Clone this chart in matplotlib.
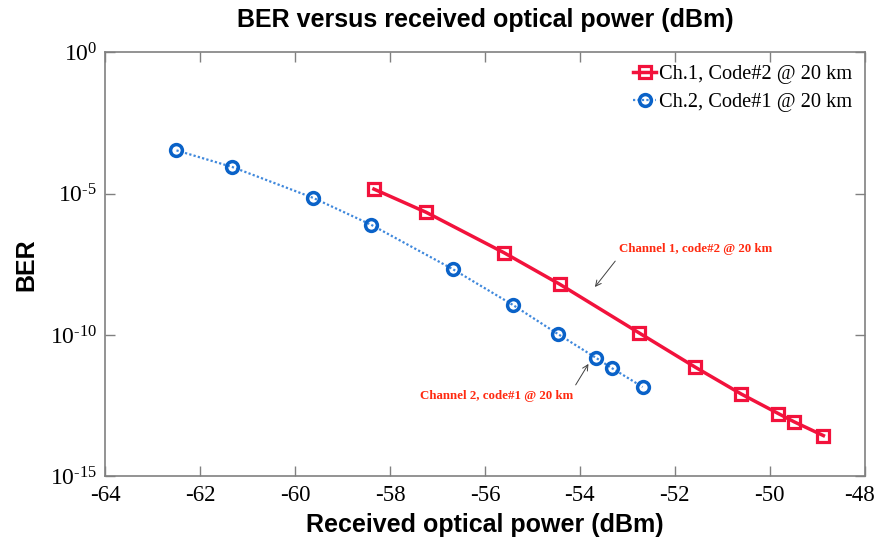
import numpy as np
import matplotlib
matplotlib.use('Agg')
import matplotlib.pyplot as plt
import matplotlib.transforms as mtrans

# dane (log10 BER)
p_ch1 = [-58.34, -57.24, -55.60, -54.42, -52.75, -51.57, -50.60, -49.82, -49.49, -48.87]
log_ber_ch1 = [-4.84, -5.66, -7.09, -8.21, -9.93, -11.14, -12.09, -12.78, -13.07, -13.56]
p_ch2 = [-62.50, -61.32, -59.62, -58.40, -56.67, -55.41, -54.47, -53.67, -53.32, -52.68]
log_ber_ch2 = [-3.47, -4.06, -5.15, -6.10, -7.68, -8.94, -9.96, -10.80, -11.18, -11.84]
label_ch1 = 'Ch.1, Code#2 @ 20 km'
label_ch2 = 'Ch.2, Code#1 @ 20 km'
note_ch1 = 'Channel 1, code#2 @ 20 km'
note_ch2 = 'Channel 2, code#1 @ 20 km'
xticks = [-64, -62, -60, -58, -56, -54, -52, -50, -48]
yexp = [0, -5, -10, -15]

ber_ch1 = 10.0 ** np.array(log_ber_ch1)
ber_ch2 = 10.0 ** np.array(log_ber_ch2)

serif = 'Liberation Serif'
sans = 'Liberation Sans'
plt.rcParams['mathtext.fontset'] = 'custom'
plt.rcParams['mathtext.rm'] = serif

fig = plt.figure(figsize=(8.78, 5.41), dpi=100)
ax = fig.add_axes([105.3 / 878, 1 - 476.3 / 541, (864.7 - 105.3) / 878, (476.3 - 52.3) / 541])

ax.plot(p_ch1, ber_ch1, '-s', color='#f2123c', lw=2.5, ms=8, mfc='none', mew=2.3, label=label_ch1)
ax.plot(p_ch2, ber_ch2, 'o', color='#0a62c8', ls=(0, (1, 1)), lw=1.6, ms=8.5, mfc='none', mew=2.5, label=label_ch2)
ax.get_lines()[1].set_color('#3f88dc')
ax.get_lines()[1].set_markeredgecolor('#0a62c8')

ax.set_yscale('log')
ax.set_xlim(-64, -48)
ax.set_ylim(1e-15, 1e0)
ax.set_xticks(xticks)
ax.set_yticks([10.0 ** e for e in yexp])
ax.minorticks_off()
ax.set_xticklabels([str(t) for t in xticks], fontfamily=serif, fontsize=16.5)
ax.set_yticklabels(['$\\mathregular{10^{\\text{%d}}}$' % e for e in yexp], fontfamily=serif, fontsize=17)
ax.tick_params(direction='in', top=True, right=True, length=7, color='#808080', width=1, pad=6)
for s in ax.spines.values():
    s.set_color('#808080')
    s.set_linewidth(1.2)
# ostatnia etykieta troche w lewo, zeby sie zmiescila
ostatnia = ax.get_xticklabels()[-1]
ostatnia.set_transform(ostatnia.get_transform() + mtrans.ScaledTranslation(-5 / 100, 0, fig.dpi_scale_trans))

ax.set_title('BER versus received optical power (dBm)', fontfamily=sans, fontweight='bold', fontsize=18, pad=18)
ax.set_xlabel('Received optical power (dBm)', fontfamily=sans, fontweight='bold', fontsize=18, labelpad=5)
ax.set_ylabel('BER', fontfamily=sans, fontweight='bold', fontsize=18, labelpad=8)

leg = ax.legend(loc='upper right', frameon=False, prop={'family': serif, 'size': 14.7},
                handlelength=1.15, handletextpad=0.15, borderaxespad=0.2, labelspacing=0.45)

ax.text(-53.17, 10 ** -6.96, note_ch1, fontfamily=serif, fontweight='bold', fontsize=9.3,
        color='#ff2a10', ha='left', va='center')
ax.annotate('', xy=(-53.72, 10 ** -8.38), xytext=(-53.22, 10 ** -7.31),
            arrowprops=dict(arrowstyle='->', color='#404040', lw=0.7))
ax.text(-54.15, 10 ** -12.15, note_ch2, fontfamily=serif, fontweight='bold', fontsize=9.3,
        color='#ff2a10', ha='right', va='center')
ax.annotate('', xy=(-53.79, 10 ** -10.94), xytext=(-54.12, 10 ** -11.85),
            arrowprops=dict(arrowstyle='->', color='#404040', lw=0.7))

plt.savefig('out.png', dpi=100)
